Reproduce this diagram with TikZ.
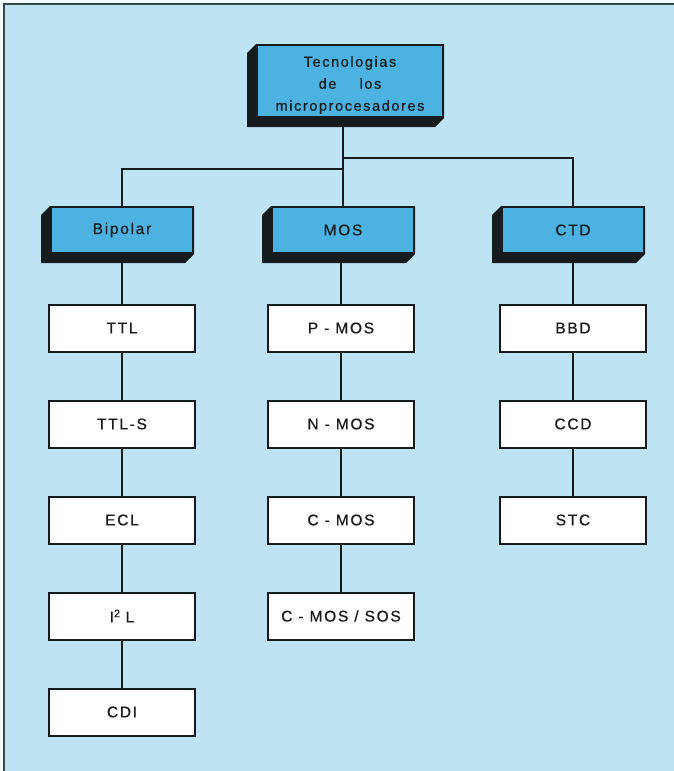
\documentclass[tikz,border=0pt]{standalone}
\usepackage{fontspec}
\usetikzlibrary{calc}
\newfontfamily\labelfont{Liberation Sans}[LetterSpace=11,FakeBold=0.6]
\definecolor{pagebg}{RGB}{190,228,244}
\definecolor{hdrblue}{RGB}{76,178,226}
\definecolor{inkc}{RGB}{22,28,30}
\definecolor{edgec}{RGB}{50,75,70}
\pgfdeclarelayer{bglayer}
\pgfdeclarelayer{shadowlayer}
\pgfsetlayers{bglayer,shadowlayer,main}
\tikzset{
  hdr/.style={draw=inkc, line width=2pt, fill=hdrblue, text=inkc,
    minimum width=142pt, minimum height=46pt, inner sep=0pt,
    font=\labelfont\fontsize{15.5}{18}\selectfont},
  topbox/.style={hdr, minimum width=186pt, minimum height=72pt,
    font=\labelfont\fontsize{14.5}{22}\selectfont},
  leaf/.style={draw=inkc, line width=2pt, fill=white, text=inkc,
    minimum width=146pt, minimum height=47pt, inner sep=0pt,
    font=\labelfont\fontsize{15.5}{18}\selectfont},
  conn/.style={draw=inkc, line width=1.1pt},
}
\newcommand{\boxshadow}[1]{%
  \fill[inkc] (#1.north west) -- ++(-9,9) -- ($(#1.south west)+(-9,9)$)
    -- ($(#1.south east)+(-9,9)$) -- (#1.south east) -- (#1.north east) -- cycle;}
\begin{document}
\begin{tikzpicture}[x=1pt,y=-1pt]
\useasboundingbox (0,0) rectangle (674,771);
\begin{pgfonlayer}{bglayer}
  \fill[white!85!pagebg] (0,0) rectangle (674,771);
  \fill[pagebg] (4,4) rectangle (674,771);
  \draw[edgec, line width=1.6pt] (4,771) -- (4,4) -- (674,4);
\end{pgfonlayer}

% header row
\node[topbox] (top) at (350,81) {\raisebox{-4pt}[\height][\depth]{\parbox{180pt}{\centering Tecnologias\\de\hspace{1.6em}los\\microprocesadores}}};
\node[hdr] (bip) at (122,230) {Bipolar};
\node[hdr] (mos) at (343,230) {MOS};
\node[hdr] (ctd) at (573,230) {CTD};

% left column
\node[leaf] (ttl)  at (122,328) {TTL};
\node[leaf] (ttls) at (122,424) {TTL-S};
\node[leaf] (ecl)  at (122,520) {ECL};
\node[leaf] (iil)  at (122,616) {I\textsuperscript{2}\,\,L};
\node[leaf] (cdi)  at (122,712) {CDI};

% middle column
\node[leaf] (pmos) at (341,328) {P - MOS};
\node[leaf] (nmos) at (341,424) {N - MOS};
\node[leaf] (cmos) at (341,520) {C - MOS};
\node[leaf] (sos)  at (341,616) {C - MOS / SOS};

% right column
\node[leaf] (bbd) at (573,328) {BBD};
\node[leaf] (ccd) at (573,424) {CCD};
\node[leaf] (stc) at (573,520) {STC};

\begin{pgfonlayer}{shadowlayer}
  \boxshadow{top}
  \boxshadow{bip}
  \boxshadow{mos}
  \boxshadow{ctd}
\end{pgfonlayer}

% connectors
\coordinate (jl) at (343,169);
\coordinate (jr) at (343,158);
\draw[conn] (top.south -| mos.north) -- (mos.north);
\draw[conn] (bip.north) |- (jl);
\draw[conn] (ctd.north) |- (jr);

\draw[conn] (bip) -- (ttl);
\draw[conn] (ttl) -- (ttls);
\draw[conn] (ttls) -- (ecl);
\draw[conn] (ecl) -- (iil);
\draw[conn] (iil) -- (cdi);

\draw[conn] (mos.south -| pmos.north) -- (pmos.north);
\draw[conn] (pmos) -- (nmos);
\draw[conn] (nmos) -- (cmos);
\draw[conn] (cmos) -- (sos);

\draw[conn] (ctd) -- (bbd);
\draw[conn] (bbd) -- (ccd);
\draw[conn] (ccd) -- (stc);
\end{tikzpicture}
\end{document}
